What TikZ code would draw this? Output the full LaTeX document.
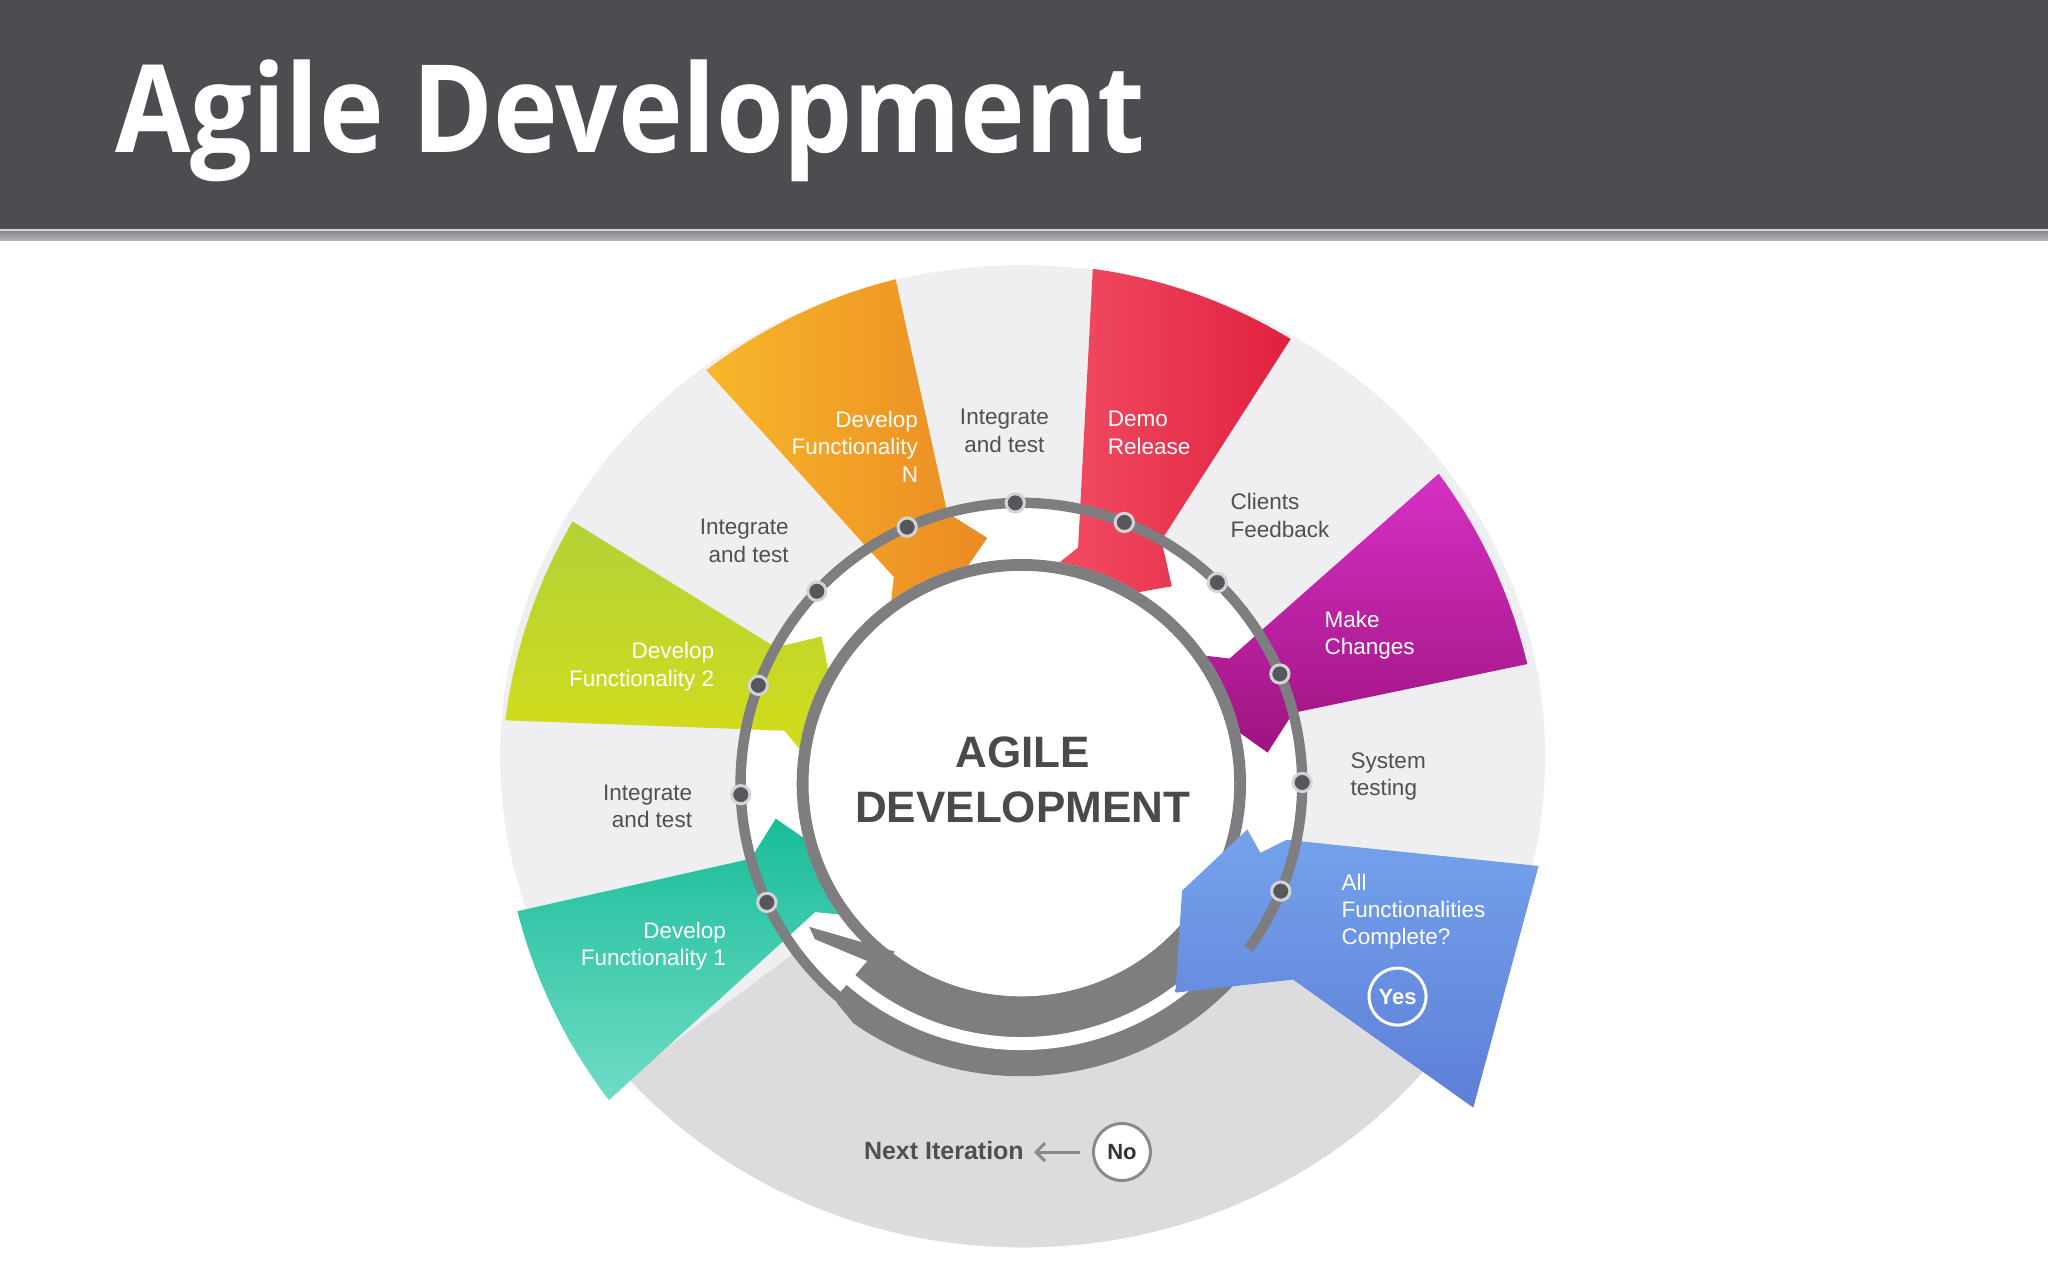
\documentclass[tikz,border=0pt]{standalone}
\usepackage{fontspec}
\setmainfont{Liberation Sans}
\newfontfamily\titlefont{Open Sans}
\usetikzlibrary{arrows.meta}
\definecolor{hdr}{HTML}{4C4D51}
\definecolor{hdrline}{HTML}{D2D2D4}
\definecolor{hdrgreyA}{HTML}{8C8C8E}
\definecolor{hdrgreyB}{HTML}{B4B4B6}
\definecolor{disc}{HTML}{EFEFF1}
\definecolor{discdark}{HTML}{DCDBDE}
\definecolor{ringgrey}{HTML}{7E7E80}
\definecolor{dotfill}{HTML}{55575B}
\definecolor{dotring}{HTML}{D3D3D5}
\definecolor{labeldark}{HTML}{505052}
\definecolor{centertext}{HTML}{4A4A4D}
\definecolor{orangeA}{HTML}{F8B72B}
\definecolor{orangeB}{HTML}{EB8A23}
\definecolor{redA}{HTML}{F24C63}
\definecolor{redB}{HTML}{E0203F}
\definecolor{magA}{HTML}{D630C4}
\definecolor{magB}{HTML}{9E1480}
\definecolor{blueA}{HTML}{74A2EC}
\definecolor{blueB}{HTML}{5E7FD7}
\definecolor{tealA}{HTML}{19BD98}
\definecolor{tealB}{HTML}{71DBC7}
\definecolor{greenA}{HTML}{B3D237}
\definecolor{greenB}{HTML}{D3DC1B}
\definecolor{nogrey}{HTML}{8A8A8C}
\newcommand{\agArrow}[2]{%
  \path[#2] ({#1+23.3}:398) arc[start angle={#1+23.3}, end angle={#1}, radius=398]
    -- ({#1+1.3}:215) -- ({#1-6.1}:190) -- ({#1-0.3}:172)
    arc[start angle={#1-0.3}, end angle={#1+21.4}, radius=172]
    -- ({#1+17.7}:186) -- cycle;}
\begin{document}
\begin{tikzpicture}[x=1.30612pt,y=1.30612pt,
  lbl/.style={font=\fontsize{22.5}{27.4}\selectfont, inner sep=0pt},
  lbldark/.style={lbl, text=labeldark},
  lblwhite/.style={lbl, text=white}]
\useasboundingbox (-782,-380) rectangle (786,600);
\fill[white] (-782,-380) rectangle (786,600);
% header
\fill[hdr] (-782,425) rectangle (786,600);
\fill[hdrline] (-782,422.5) rectangle (786,425);
\shade[top color=hdrgreyA, bottom color=hdrgreyB] (-782,416) rectangle (786,422.5);
\node[anchor=base west, text=white, inner sep=0pt,
  font=\titlefont\bfseries\fontsize{122}{130}\selectfont] (title) at (-694,483)
  {\scalebox{0.897}[1]{Agile Development}};
% disc
\fill[disc] (1,21) ellipse [x radius=400, y radius=376];
\begin{scope}
  \clip (0,0) -- (-35.6:900) -- (-90:900) -- (-143.3:900) -- cycle;
  \fill[discdark] (1,21) ellipse [x radius=400, y radius=376];
\end{scope}
\fill[white] (0,0) circle [radius=216];
% arrows
\agArrow{194.2}{top color=tealA, bottom color=tealB}
\agArrow{149.7}{top color=greenA, bottom color=greenB}
\agArrow{104}{left color=orangeA, right color=orangeB}
\agArrow{58.8}{left color=redA, right color=redB}
\agArrow{13.3}{top color=magA, bottom color=magB}
% inner ring
\draw[ringgrey, line width=11.8pt] (0,0) circle [radius=167.5];
% bottom cycle band
\fill[ringgrey] (-30:163) arc[start angle=-30, end angle=-130, radius=163]
  -- (-130:219.5) -- (-125:224) arc[start angle=-125, end angle=-30, radius=224] -- cycle;
\fill[ringgrey] (-127:161) -- (-146:196) -- (-127:219) -- cycle;
\draw[white, line width=13pt] (-33:199) arc[start angle=-33, end angle=-132, radius=199];
\fill[white] (-131:180) -- (-143:198) -- (-131:216) -- cycle;
% blue arrow
\path[top color=blueA, bottom color=blueB] (396,-63) -- (346,-248) -- (208,-150)
  -- (118,-160) -- (123,-82) -- (173,-35) -- (183,-53) -- (203,-43) -- cycle;
% dots ring
\draw[ringgrey, line width=10.4pt] (-36:215) arc[start angle=-36, end angle=240, radius=215];
\foreach \k in {0,...,10}
  \filldraw[fill=dotfill, draw=dotring, line width=3pt] ({205-22.75*\k}:215) circle [radius=7];
% labels
\node[lblwhite, anchor=east, align=right] (devn) at (-79,258) {Develop\\Functionality\\N};
\node[lbldark, align=center] (inttop) at (-13,270) {Integrate\\and test};
\node[lblwhite, anchor=west, align=left] (demo) at (66,268.5) {Demo\\Release};
\node[lbldark, anchor=west, align=left] (clients) at (160,205.5) {Clients\\Feedback};
\node[lblwhite, anchor=west, align=left] (make) at (232,113.5) {Make\\Changes};
\node[lbldark, anchor=west, align=left] (system) at (252,5.5) {System\\testing};
\node[lblwhite, anchor=west, align=left] (allf) at (245,-98) {All\\Functionalities\\Complete?};
\node[circle, draw=white, line width=3pt, minimum size=57pt, inner sep=0pt, text=white,
  font=\bfseries\fontsize{22}{26}\selectfont] (yes) at (288,-163) {Yes};
\node[lbldark, anchor=east, align=right] (intul) at (-178,186) {Integrate\\and test};
\node[lblwhite, anchor=east, align=right] (dev2) at (-235,89.5) {Develop\\Functionality 2};
\node[lbldark, anchor=east, align=right] (intl) at (-252,-17.5) {Integrate\\and test};
\node[lblwhite, anchor=east, align=right] (dev1) at (-226,-124.5) {Develop\\Functionality 1};
\node[font=\bfseries\fontsize{44}{55}\selectfont, text=centertext, align=center, inner sep=0pt]
  (center) at (1,3) {AGILE\\DEVELOPMENT};
\node[font=\bfseries\fontsize{25}{30}\selectfont, anchor=east, inner sep=0pt, text=labeldark]
  (next) at (2,-281) {Next Iteration};
\node[circle, fill=white, draw=nogrey, line width=3pt, minimum size=57pt, inner sep=0pt,
  text=black!80, font=\bfseries\fontsize{22}{26}\selectfont] (no) at (77,-282) {No};
\draw[nogrey, line width=3pt, -{Straight Barb[length=9pt,width=18pt]},
  shorten <=12pt, shorten >=10pt] (no.west) -- (next.east |- no.west);
\end{tikzpicture}
\end{document}
